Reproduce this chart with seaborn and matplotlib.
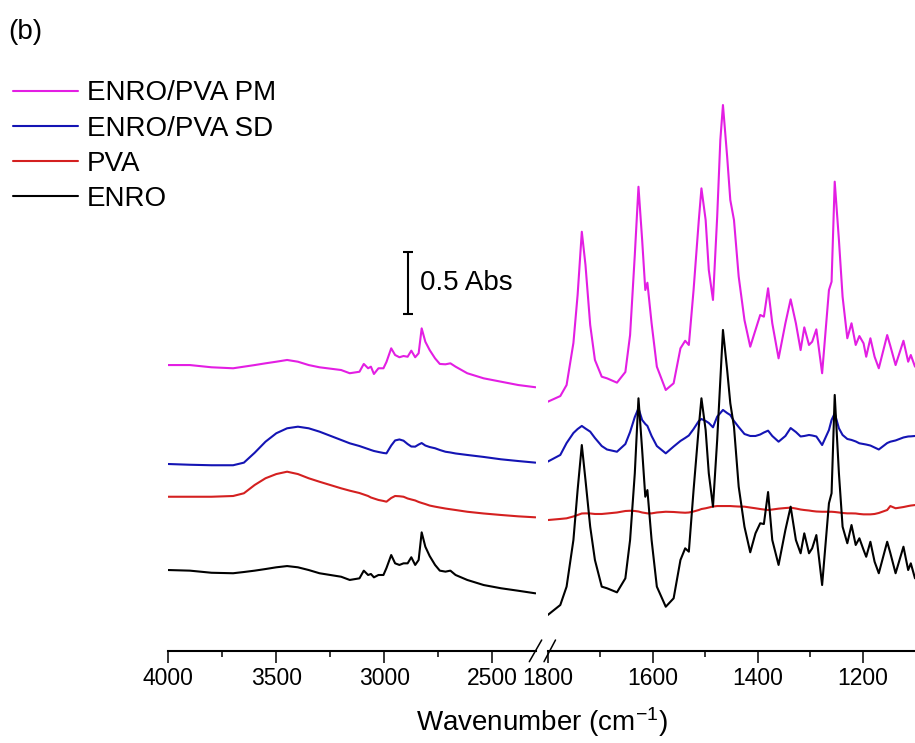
import matplotlib
matplotlib.use("Agg")
import matplotlib.pyplot as plt
from matplotlib.lines import Line2D
from matplotlib.ticker import FixedLocator
import pandas as pd
import seaborn as sns

# ---------------------------------------------------------------------------
# FTIR spectra (stacked, absorbance incl. vertical offsets)
# ---------------------------------------------------------------------------
SAMPLES = ["ENRO/PVA PM", "ENRO/PVA SD", "PVA", "ENRO"]
COLORS = ["#e31ee3", "#1414b4", "#d42020", "#000000"]

# high-wavenumber region, 4000-2300 cm-1
LEFT_WN = [4000, 3900, 3800, 3700, 3650, 3600, 3550, 3500, 3450, 3400, 3350,
           3300, 3200, 3160, 3115, 3095, 3075, 3062, 3048, 3027, 3004, 2990,
           2968, 2950, 2930, 2911, 2892, 2875, 2857, 2841, 2827, 2810, 2790,
           2765, 2743, 2717, 2694, 2670, 2616, 2540, 2460, 2380, 2300]

PM_LEFT = [2.306, 2.306, 2.288, 2.280, 2.293, 2.306, 2.320, 2.333, 2.347, 2.333,
           2.306, 2.288, 2.266, 2.240, 2.252, 2.315, 2.280, 2.293, 2.234, 2.280,
           2.280, 2.331, 2.441, 2.387, 2.369, 2.379, 2.373, 2.422, 2.369, 2.401,
           2.602, 2.494, 2.427, 2.360, 2.315, 2.312, 2.320, 2.293, 2.240, 2.199,
           2.172, 2.145, 2.127]
SD_LEFT = [1.508, 1.502, 1.498, 1.498, 1.519, 1.599, 1.688, 1.756, 1.796, 1.809,
           1.796, 1.769, 1.702, 1.675, 1.653, 1.641, 1.629, 1.621, 1.613, 1.605,
           1.597, 1.594, 1.657, 1.698, 1.706, 1.696, 1.669, 1.649, 1.648, 1.665,
           1.677, 1.657, 1.645, 1.635, 1.621, 1.607, 1.601, 1.593, 1.581, 1.565,
           1.546, 1.532, 1.519]
PVA_LEFT = [1.244, 1.244, 1.244, 1.250, 1.272, 1.339, 1.393, 1.427, 1.446, 1.427,
            1.393, 1.365, 1.312, 1.293, 1.274, 1.262, 1.250, 1.238, 1.230, 1.218,
            1.210, 1.204, 1.234, 1.250, 1.248, 1.244, 1.230, 1.222, 1.214, 1.202,
            1.194, 1.185, 1.173, 1.164, 1.157, 1.149, 1.143, 1.137, 1.123, 1.109,
            1.097, 1.086, 1.078]
ENRO_LEFT = [0.653, 0.648, 0.631, 0.627, 0.637, 0.648, 0.661, 0.675, 0.685, 0.675,
             0.653, 0.627, 0.599, 0.573, 0.586, 0.648, 0.613, 0.621, 0.594, 0.613,
             0.613, 0.669, 0.774, 0.707, 0.694, 0.707, 0.707, 0.756, 0.694, 0.734,
             0.957, 0.841, 0.766, 0.694, 0.648, 0.640, 0.648, 0.613, 0.573, 0.532,
             0.506, 0.486, 0.465]

# fingerprint region, 1800-1100 cm-1
RIGHT_WN = [1800, 1776, 1764, 1751, 1743, 1735, 1728, 1719, 1710, 1697, 1687,
            1668, 1652, 1643, 1634, 1627, 1620, 1614, 1610, 1602, 1592, 1575,
            1560, 1547, 1538, 1531, 1522, 1512, 1507, 1499, 1493, 1485, 1477,
            1471, 1466, 1458, 1452, 1445, 1436, 1425, 1414, 1404, 1395, 1388,
            1380, 1372, 1360, 1347, 1337, 1327, 1318, 1311, 1302, 1296, 1288,
            1277, 1264, 1259, 1253, 1245, 1238, 1229, 1221, 1213, 1206, 1198,
            1193, 1185, 1177, 1169, 1153, 1147, 1137, 1122, 1113, 1108, 1100]

PM_RIGHT = [2.010, 2.056, 2.145, 2.484, 2.871, 3.381, 3.113, 2.629, 2.347, 2.212,
            2.199, 2.164, 2.250, 2.548, 3.194, 3.744, 3.315, 2.911, 2.970, 2.643,
            2.293, 2.105, 2.159, 2.441, 2.502, 2.468, 2.911, 3.476, 3.731, 3.476,
            3.073, 2.831, 3.502, 4.121, 4.403, 3.986, 3.637, 3.476, 3.019, 2.669,
            2.454, 2.589, 2.710, 2.696, 2.925, 2.643, 2.360, 2.643, 2.836, 2.643,
            2.427, 2.610, 2.468, 2.494, 2.594, 2.240, 2.911, 2.978, 3.785, 3.315,
            2.857, 2.522, 2.643, 2.468, 2.540, 2.481, 2.373, 2.522, 2.373, 2.280,
            2.548, 2.460, 2.306, 2.502, 2.333, 2.387, 2.293]
SD_RIGHT = [1.527, 1.581, 1.677, 1.758, 1.790, 1.815, 1.794, 1.769, 1.718, 1.653,
            1.625, 1.607, 1.669, 1.766, 1.887, 1.957, 1.863, 1.831, 1.815, 1.734,
            1.653, 1.594, 1.649, 1.694, 1.718, 1.738, 1.790, 1.855, 1.871, 1.855,
            1.839, 1.804, 1.890, 1.919, 1.944, 1.919, 1.903, 1.855, 1.806, 1.750,
            1.734, 1.734, 1.746, 1.762, 1.777, 1.734, 1.688, 1.734, 1.798, 1.766,
            1.730, 1.734, 1.742, 1.738, 1.730, 1.661, 1.782, 1.863, 1.917, 1.796,
            1.742, 1.710, 1.702, 1.690, 1.675, 1.669, 1.665, 1.657, 1.641, 1.625,
            1.677, 1.688, 1.698, 1.722, 1.730, 1.731, 1.734]
PVA_RIGHT = [1.056, 1.065, 1.070, 1.085, 1.097, 1.109, 1.110, 1.109, 1.105, 1.105,
             1.109, 1.117, 1.129, 1.131, 1.129, 1.125, 1.117, 1.113, 1.110, 1.110,
             1.117, 1.123, 1.121, 1.117, 1.115, 1.117, 1.125, 1.137, 1.145, 1.151,
             1.157, 1.165, 1.169, 1.169, 1.169, 1.169, 1.169, 1.167, 1.165, 1.164,
             1.157, 1.151, 1.145, 1.141, 1.137, 1.141, 1.148, 1.153, 1.156, 1.149,
             1.141, 1.137, 1.133, 1.129, 1.125, 1.123, 1.123, 1.123, 1.121, 1.117,
             1.113, 1.110, 1.110, 1.109, 1.105, 1.102, 1.102, 1.102, 1.105, 1.113,
             1.137, 1.169, 1.151, 1.161, 1.169, 1.173, 1.177]
ENRO_RIGHT = [0.290, 0.371, 0.519, 0.895, 1.298, 1.661, 1.379, 1.002, 0.734, 0.519,
              0.506, 0.473, 0.586, 0.895, 1.433, 2.038, 1.621, 1.244, 1.298, 0.895,
              0.519, 0.357, 0.425, 0.734, 0.828, 0.801, 1.298, 1.809, 2.038, 1.782,
              1.433, 1.164, 1.702, 2.185, 2.589, 2.266, 1.998, 1.809, 1.325, 1.002,
              0.796, 0.949, 1.030, 1.024, 1.282, 0.895, 0.694, 0.976, 1.164, 0.895,
              0.788, 0.949, 0.788, 0.828, 0.935, 0.532, 1.191, 1.272, 2.065, 1.433,
              1.002, 0.869, 1.016, 0.855, 0.909, 0.815, 0.760, 0.881, 0.720, 0.627,
              0.881, 0.790, 0.627, 0.841, 0.653, 0.707, 0.586]

LEFT_TICKS = [4000, 3500, 3000, 2500]
LEFT_MINOR = [3750, 3250, 2750]
RIGHT_TICKS = [1800, 1600, 1400, 1200]
RIGHT_MINOR = [1700, 1500, 1300]

SCALE_BAR = 0.5          # Abs
SCALE_BAR_X = 2890       # cm-1
SCALE_BAR_MID = 2.968    # Abs


def long_frame(wn, traces):
    parts = [pd.DataFrame({"wavenumber": wn, "absorbance": vals, "sample": name})
             for name, vals in zip(SAMPLES, traces)]
    return pd.concat(parts, ignore_index=True)


left_df = long_frame(LEFT_WN, [PM_LEFT, SD_LEFT, PVA_LEFT, ENRO_LEFT])
right_df = long_frame(RIGHT_WN, [PM_RIGHT, SD_RIGHT, PVA_RIGHT, ENRO_RIGHT])

sns.set_style("white", rc={"axes.edgecolor": "black", "text.color": "black",
                           "xtick.color": "black", "axes.labelcolor": "black"})
plt.rcParams["font.family"] = ["Liberation Sans", "DejaVu Sans"]
plt.rcParams["mathtext.default"] = "regular"

W, H = 915, 743
fig = plt.figure(figsize=(W / 100, H / 100), dpi=100)
ax_l = fig.add_axes([168.3 / W, 92 / H, 367.2 / W, 651 / H])
ax_r = fig.add_axes([547.7 / W, 92 / H, 367.3 / W, 651 / H])

for ax, df in ((ax_l, left_df), (ax_r, right_df)):
    sns.lineplot(data=df, x="wavenumber", y="absorbance", hue="sample",
                 hue_order=SAMPLES, palette=COLORS, estimator=None, sort=False,
                 linewidth=1.5, legend=False, ax=ax)
    ax.set_ylim(0, 651 / 124)
    ax.set_yticks([])
    ax.set_xlabel("")
    ax.set_ylabel("")
    for side in ("left", "top", "right"):
        ax.spines[side].set_visible(False)
    ax.spines["bottom"].set_linewidth(1.5)
    ax.tick_params(axis="x", which="major", direction="out", bottom=True,
                   length=8.6, width=1.1, labelsize=16.5, pad=3)
    ax.tick_params(axis="x", which="minor", direction="out", bottom=True,
                   length=4.3, width=1.1)
    ax.patch.set_alpha(0)

ax_l.set_xlim(4000, 2300)
ax_l.xaxis.set_major_locator(FixedLocator(LEFT_TICKS))
ax_l.xaxis.set_minor_locator(FixedLocator(LEFT_MINOR))
ax_r.set_xlim(1800, 1100)
ax_r.xaxis.set_major_locator(FixedLocator(RIGHT_TICKS))
ax_r.xaxis.set_minor_locator(FixedLocator(RIGHT_MINOR))

# 0.5 Abs scale bar
ax_l.errorbar([SCALE_BAR_X], [SCALE_BAR_MID], yerr=[SCALE_BAR / 2], fmt="none",
              ecolor="black", elinewidth=1.5, capsize=3.5, capthick=1.5)
ax_l.text(2835, SCALE_BAR_MID, f"{SCALE_BAR} Abs", fontsize=20,
          ha="left", va="center")

# axis break marks
for x0, x1 in ((529.3, 541.7), (544.0, 555.5)):
    fig.add_artist(Line2D([x0 / W, x1 / W], [1 - 661.7 / H, 1 - 640 / H],
                          transform=fig.transFigure, color="black", lw=1.1))

fig.text(542 / W, 1 - 722 / H, "Wavenumber (cm$^{-1}$)", fontsize=20,
         ha="center", va="center")
fig.text(8 / W, 1 - 31.7 / H, "(b)", fontsize=20, ha="left", va="center")

handles = ax_l.get_lines()[:len(SAMPLES)]
fig.legend(handles, SAMPLES, loc="upper left",
           bbox_to_anchor=(13 / W, 1 - 80.5 / H), frameon=False, fontsize=20,
           handlelength=2.35, handletextpad=0.32, labelspacing=0.33,
           borderpad=0, borderaxespad=0)

fig.savefig("out.png", dpi=100)
